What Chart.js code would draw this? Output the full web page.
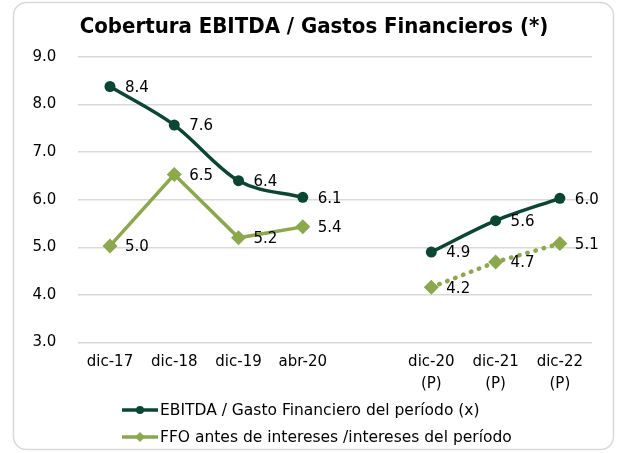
<!DOCTYPE html>
<html><head><meta charset="utf-8">
<script src="https://cdn.jsdelivr.net/npm/chart.js@4.4.0/dist/chart.umd.min.js"></script>
<style>html,body{margin:0;padding:0;background:#fff}#wrap{width:619px;height:453px;position:relative}</style>
</head><body><div id="wrap"><canvas id="c" width="619" height="453"></canvas></div>
<script>
const categories = [['dic-17'], ['dic-18'], ['dic-19'], ['abr-20'], [''], ['dic-20','(P)'], ['dic-21','(P)'], ['dic-22','(P)']];
const ebitdaValues = [8.38, 7.57, 6.4, 6.05, null, 4.9, 5.56, 6.03];
const ebitdaLabels = ['8.4', '7.6', '6.4', '6.1', '', '4.9', '5.6', '6.0'];
const ffoValues = [5.03, 6.53, 5.2, 5.43, null, 4.16, 4.69, 5.08];
const ffoLabels = ['5.0', '6.5', '5.2', '5.4', '', '4.2', '4.7', '5.1'];
const yTicks = [3, 4, 5, 6, 7, 8, 9];
const seriesNames = ['EBITDA / Gasto Financiero del período (x)', 'FFO antes de intereses /intereses del período'];
const titleText = 'Cobertura EBITDA / Gastos Financieros (*)';

const DARK = '#0b4631', LIGHT = '#8ba94c';
const FONT = '"DejaVu Sans", sans-serif';

const frame = {
  id: 'frame',
  beforeDraw(chart) {
    const ctx = chart.ctx;
    ctx.save();
    ctx.fillStyle = '#fff';
    ctx.fillRect(0, 0, chart.width, chart.height);
    ctx.strokeStyle = '#d9d9d9';
    ctx.lineWidth = 1.5;
    ctx.beginPath();
    ctx.roundRect(13.5, 2.5, 600, 447, 13);
    ctx.stroke();
    ctx.fillStyle = '#000';
    ctx.font = 'bold 22px "DejaVu Sans Condensed", "DejaVu Sans", sans-serif';
    ctx.textAlign = 'center';
    ctx.textBaseline = 'middle';
    ctx.fillText(titleText, 314, 27);
    ctx.restore();
  }
};

const valueLabels = {
  id: 'valueLabels',
  afterDatasetsDraw(chart) {
    const ctx = chart.ctx;
    ctx.save();
    ctx.font = '15px ' + FONT;
    ctx.fillStyle = '#000';
    ctx.textBaseline = 'middle';
    ctx.textAlign = 'left';
    const sets = [ebitdaLabels, ffoLabels];
    chart.data.datasets.forEach((ds, di) => {
      const meta = chart.getDatasetMeta(di);
      meta.data.forEach((pt, i) => {
        if (ds.data[i] == null) return;
        ctx.fillText(sets[di][i], pt.x + 15, pt.y + 1.5);
      });
    });
    ctx.restore();
  }
};

const legendPlugin = {
  id: 'customLegend',
  afterDraw(chart) {
    const ctx = chart.ctx;
    ctx.save();
    const rows = [{y: 410, color: DARK, shape: 'circle'}, {y: 437, color: LIGHT, shape: 'diamond'}];
    rows.forEach((r, i) => {
      ctx.strokeStyle = r.color;
      ctx.lineWidth = 3.5;
      ctx.beginPath();
      ctx.moveTo(122, r.y);
      ctx.lineTo(158, r.y);
      ctx.stroke();
      ctx.fillStyle = r.color;
      ctx.beginPath();
      if (r.shape === 'circle') {
        ctx.arc(140, r.y, 4, 0, Math.PI * 2);
      } else {
        ctx.moveTo(140, r.y - 5); ctx.lineTo(145, r.y); ctx.lineTo(140, r.y + 5); ctx.lineTo(135, r.y);
        ctx.closePath();
      }
      ctx.fill();
      ctx.fillStyle = '#000';
      ctx.font = '15.5px ' + FONT;
      ctx.textBaseline = 'middle';
      ctx.textAlign = 'left';
      ctx.fillText(seriesNames[i], 160, r.y + 1);
    });
    ctx.restore();
  }
};

new Chart(document.getElementById('c'), {
  type: 'line',
  data: {
    labels: categories,
    datasets: [
      {
        label: seriesNames[0],
        data: ebitdaValues,
        borderColor: DARK,
        backgroundColor: DARK,
        borderWidth: 3.5,
        pointRadius: 5.5,
        pointHoverRadius: 5.5,
        pointBorderWidth: 0,
        pointStyle: 'circle',
        tension: 0.4,
        cubicInterpolationMode: 'monotone',
        spanGaps: false
      },
      {
        label: seriesNames[1],
        data: ffoValues,
        borderColor: LIGHT,
        backgroundColor: LIGHT,
        borderWidth: 3.5,
        pointRadius: 7.5,
        pointHoverRadius: 7.5,
        pointBorderWidth: 0,
        pointStyle: 'rectRot',
        tension: 0,
        spanGaps: false,
        borderCapStyle: 'round',
        segment: {
          borderDash: ctx => ctx.p0DataIndex >= 5 ? [0.5, 8] : undefined,
          borderWidth: ctx => ctx.p0DataIndex >= 5 ? 4.5 : 3.5
        }
      }
    ]
  },
  options: {
    responsive: false,
    animation: false,
    layout: {padding: {left: 11, right: 27, top: 57, bottom: 57}},
    plugins: {
      legend: {display: false},
      tooltip: {enabled: false},
      title: {display: false}
    },
    scales: {
      x: {
        offset: true,
        grid: {display: false},
        border: {display: false},
        ticks: {color: '#000', font: {family: FONT, size: 15, lineHeight: 1.45}, maxRotation: 0, autoSkip: false, padding: 1}
      },
      y: {
        min: 3, max: 9,
        afterBuildTicks: s => { s.ticks = yTicks.map(v => ({value: v})); },
        grid: {color: '#d9d9d9', lineWidth: 1.5, drawTicks: false},
        border: {display: false},
        ticks: {color: '#000', font: {family: FONT, size: 15}, padding: 21.5, callback: v => v.toFixed(1)}
      }
    }
  },
  plugins: [frame, valueLabels, legendPlugin]
});
</script></body></html>
